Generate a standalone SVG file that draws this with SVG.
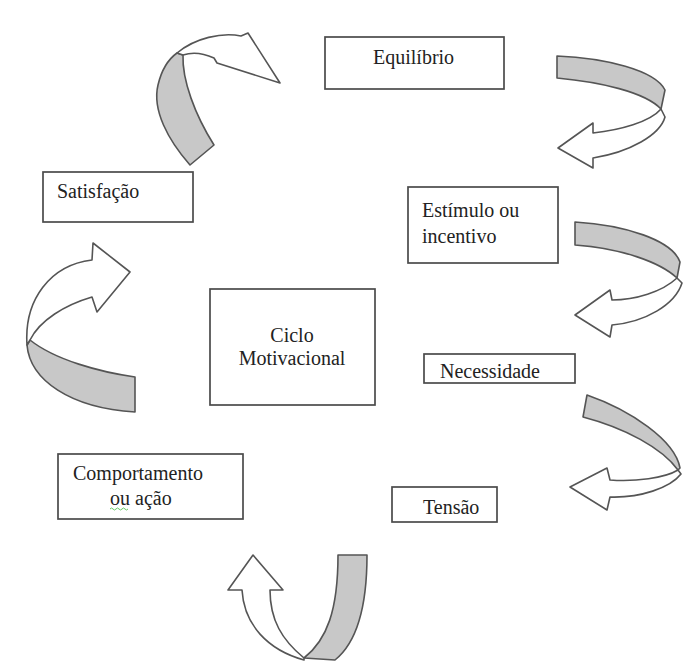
<svg xmlns="http://www.w3.org/2000/svg" width="685" height="661" viewBox="0 0 685 661">
<style>
.box{fill:#fff;stroke:#4a4a4a;stroke-width:1.7}
.t{font-family:"Liberation Serif","Times New Roman",serif;font-size:20px;fill:#222}
.g{fill:#c8c8c8;stroke:#555;stroke-width:1.6;stroke-linejoin:round}
.w{fill:#fff;stroke:#555;stroke-width:1.6;stroke-linejoin:round}
</style>
<rect width="685" height="661" fill="#fff"/>
<g id="connectors">
  <g id="arrow1"><path class="g" d="M190,165 C168,140 152,110 158,85 C162,68 170,58 177,53 L183,55 C182,80 195,115 214,145 Z"/><path class="w" d="M177,53 C195,38 222,32 241,36 L248,33 L280,83 L217,63 L214,58 C203,53 192,52 183,55 Z"/></g>
  <g id="arrow2"><path class="g" d="M557,56 L557,78 C600,82 645,92 661,109 L665,90 C655,70 605,58 557,56 Z"/><path class="w" d="M661,109 C650,122 620,130 593,133 L593,123 L558,148 L593,168 L593,158 C630,152 660,135 665,117 Z"/></g>
  <g id="arrow3"><path class="g" d="M575,222 L575,245 C620,248 660,262 677,278 L680,262 C672,240 625,225 575,222 Z"/><path class="w" d="M677,278 C662,292 635,300 612,300 L610,290 L575,315 L610,337 L612,325 C645,322 675,305 682,283 Z"/></g>
  <g id="arrow4"><path class="g" d="M587,395 L583,417 C625,428 662,448 678,470 L680,468 C675,440 630,410 587,395 Z"/><path class="w" d="M678,470 C665,478 635,482 610,480 L607,468 L570,487 L607,510 L610,497 C640,498 670,488 681,474 Z"/></g>
  <g id="arrow5"><path class="g" d="M338,555 L367,555 C367,600 360,640 335,660 L304,658 C327,640 338,610 338,555 Z"/><path class="w" d="M304,658 C282,640 270,620 270,590 L283,590 L253,555 L228,590 L242,590 C244,625 268,650 304,660 Z"/></g>
  <g id="arrow6"><path class="g" d="M135,377 C100,372 55,360 30,340 L27,345 C30,380 70,408 135,412 Z"/><path class="w" d="M27,345 C24,300 50,265 92,260 L93,243 L130,272 L97,312 L92,297 C65,305 40,320 30,340 Z"/></g>
</g>
<g id="equilibrio"><rect class="box" x="325" y="37" width="179" height="52"/><text class="t" x="373" y="64">Equilíbrio</text></g>
<g id="satisfacao"><rect class="box" x="43" y="172" width="150" height="50"/><text class="t" x="57" y="198">Satisfação</text></g>
<g id="estimulo"><rect class="box" x="408" y="187" width="150" height="76"/><text class="t" x="422" y="217">Estímulo ou</text><text class="t" x="422" y="243">incentivo</text></g>
<g id="necessidade"><rect class="box" x="424" y="354" width="151" height="29"/><text class="t" x="440" y="378">Necessidade</text></g>
<g id="tensao"><rect class="box" x="392" y="487" width="105" height="35"/><text class="t" x="423" y="514">Tensão</text></g>
<g id="comportamento"><rect class="box" x="58" y="454" width="185" height="65"/><text class="t" x="73" y="480">Comportamento</text><text class="t" x="110" y="505">ou ação</text><path d="M110,509 q1.5,-2 3,0 t3,0 t3,0 t3,0 t3,0 t3,0" fill="none" stroke="#6c6" stroke-width="1"/></g>
<g id="ciclo"><rect class="box" x="210" y="289" width="165" height="116"/><text class="t" x="292" y="342" text-anchor="middle">Ciclo</text><text class="t" x="292" y="365" text-anchor="middle">Motivacional</text></g>
</svg>
